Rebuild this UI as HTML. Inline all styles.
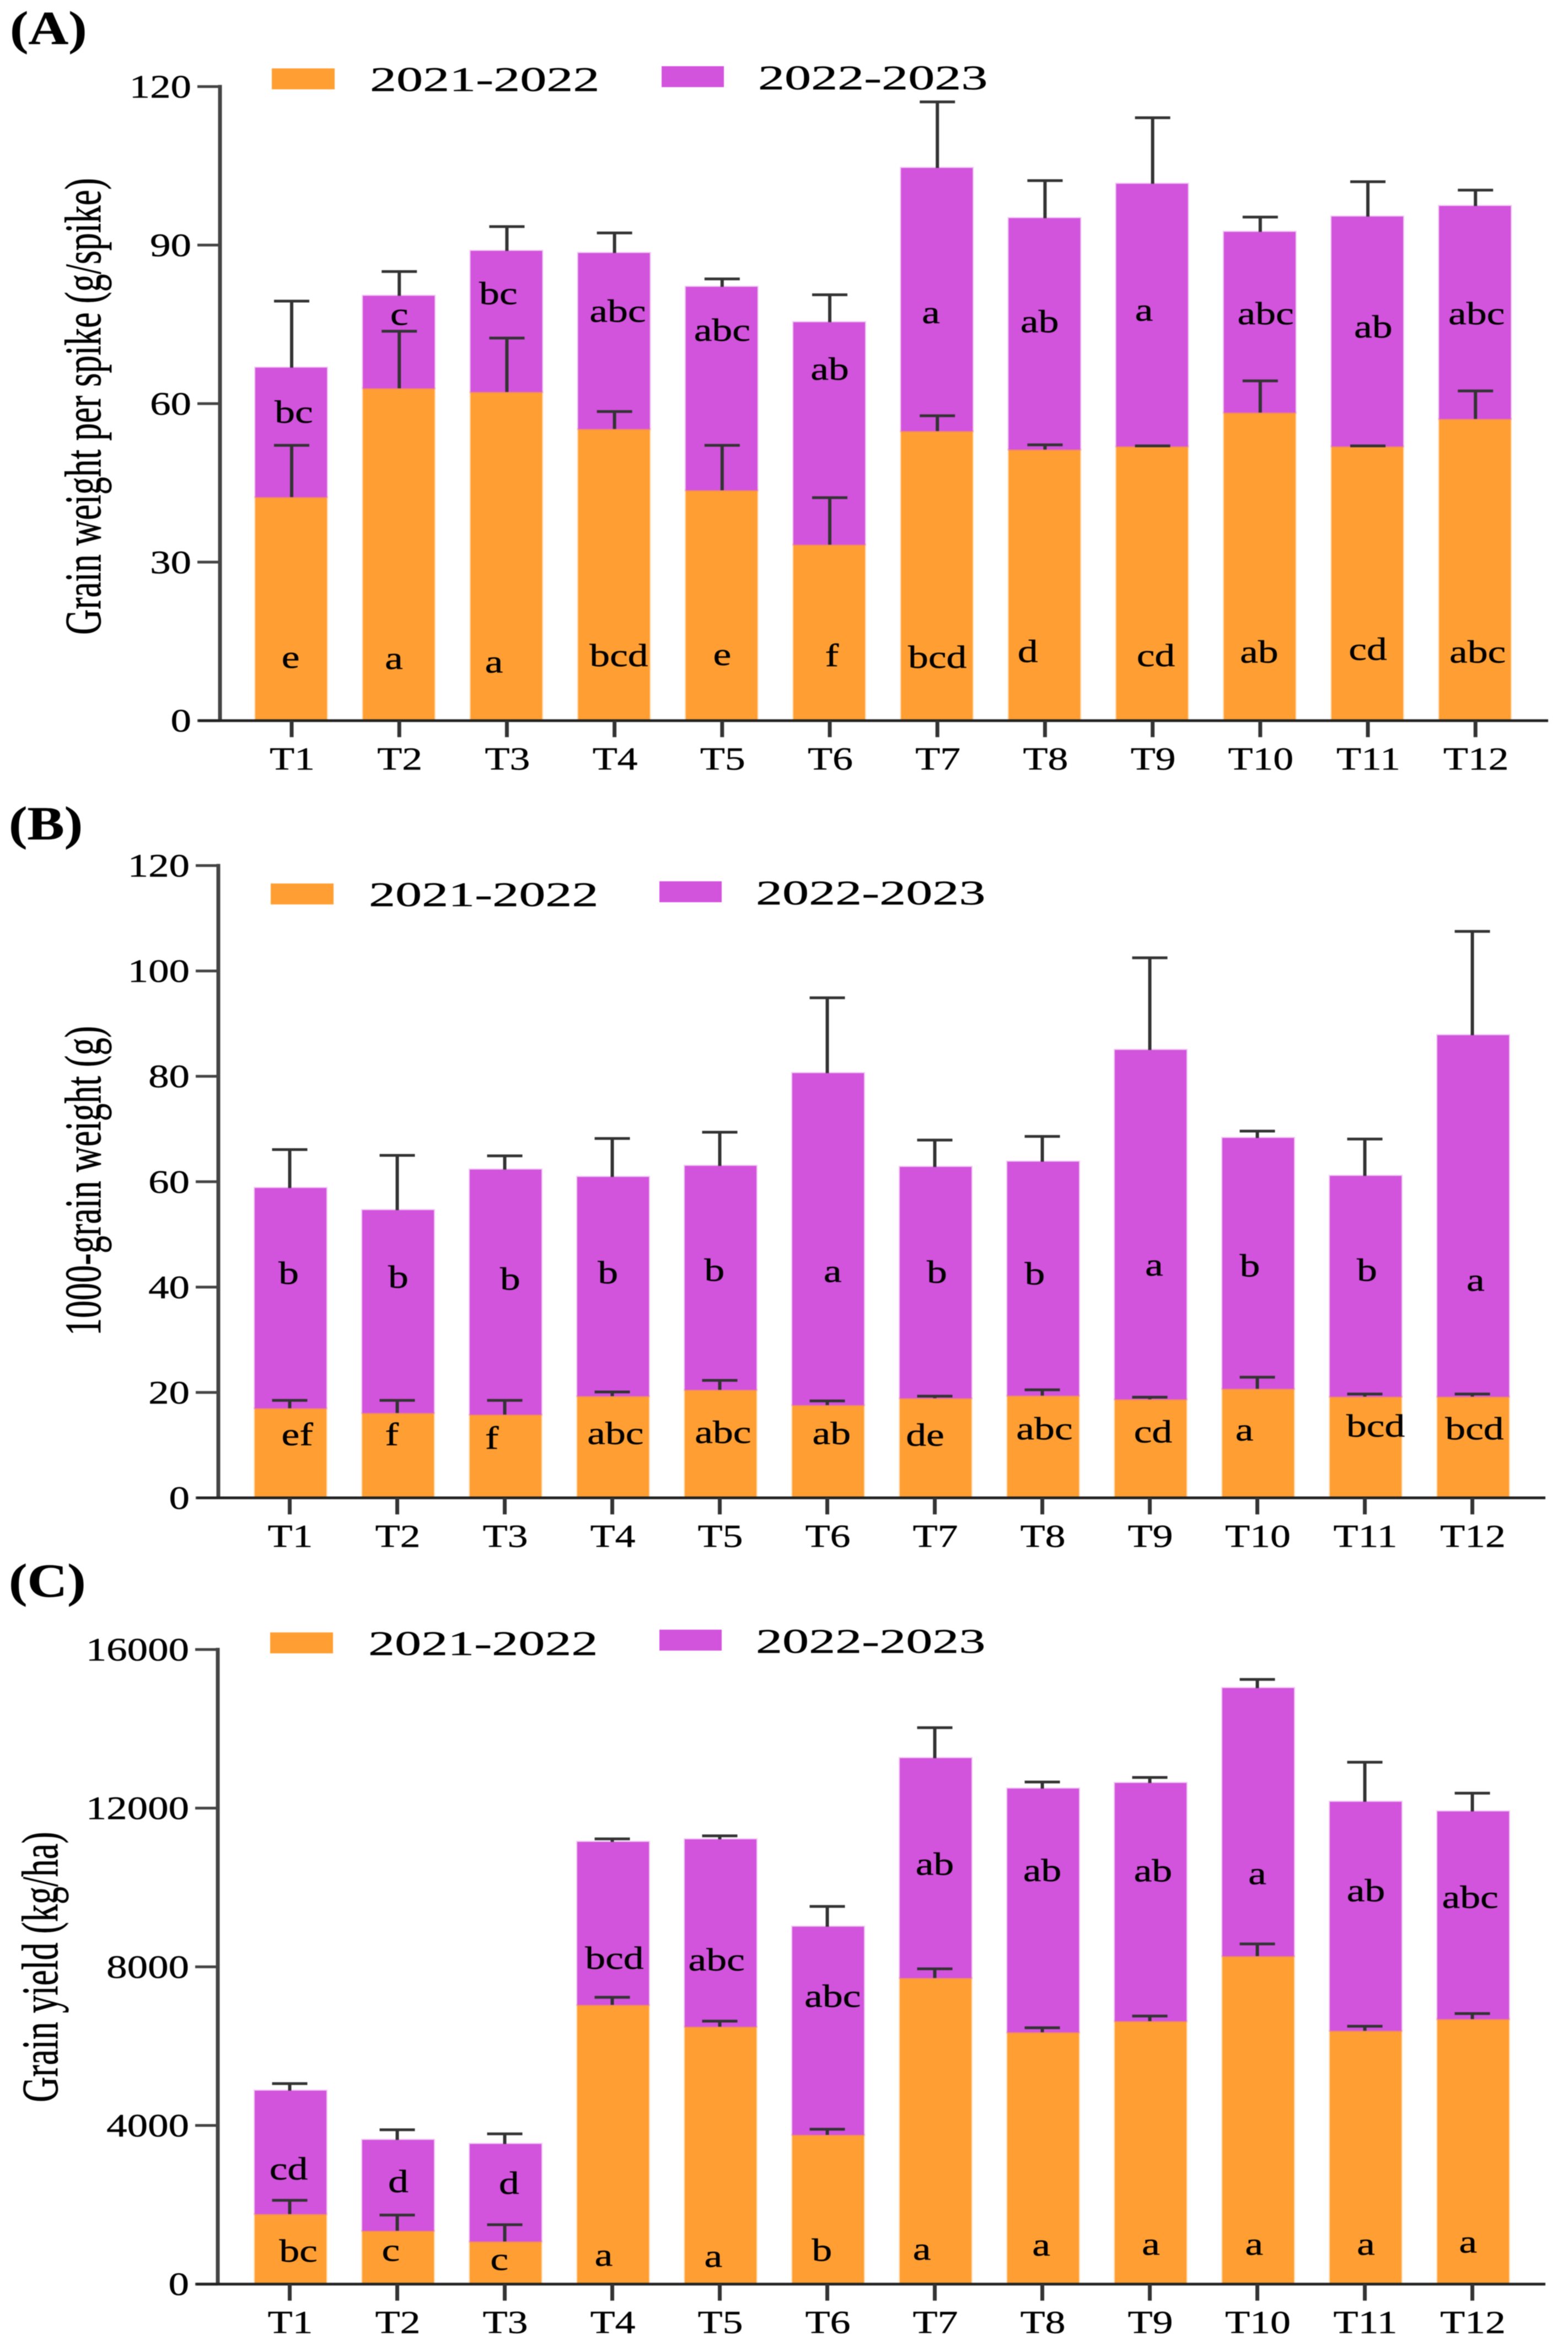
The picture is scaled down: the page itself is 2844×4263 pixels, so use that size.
<!DOCTYPE html>
<html lang="en">
<head>
<meta charset="utf-8">
<title>Grain weight and yield by treatment</title>
<style>
html,body{margin:0;padding:0;background:#fff;}
svg{display:block;filter:blur(0.7px);}
text{font-family:"Liberation Serif","DejaVu Serif",serif;fill:#000;stroke:#000;stroke-width:0.5px;}
</style>
</head>
<body>
<svg id="figure" xmlns="http://www.w3.org/2000/svg" width="2844" height="4263" viewBox="0 0 2844 4263">
<rect x="0" y="0" width="2844" height="4263" fill="#ffffff"/>
</svg>
<script>
const categories = ['T1','T2','T3','T4','T5','T6','T7','T8','T9','T10','T11','T12'];
const seriesNames = ['2021-2022','2022-2023'];

/* Panel A: grain weight per spike */
const ticksA = [0,30,60,90,120];
const bar1A = [42.3,62.9,62.2,55.2,43.6,33.3,54.8,51.3,51.9,58.3,51.9,57.1];
const bar2A = [24.5,17.5,26.7,33.3,38.5,42.1,49.8,43.8,49.7,34.2,43.5,40.3];
const err1A = [9.8,10.8,10.2,3.3,8.5,8.9,2.9,0.9,0.1,6.0,0.1,5.3];
const err2A = [12.6,4.6,4.6,3.8,1.5,5.2,12.5,7.1,12.5,2.8,6.6,3.0];
const sig1A = ['e','a','a','bcd','e','f','bcd','d','cd','ab','cd','abc'];
const sig2A = ['bc','c','bc','abc','abc','ab','a','ab','a','abc','ab','abc'];
const sig1LevelA = [10.0,9.8,9.1,10.3,10.5,10.3,10.0,11.1,10.3,11.0,11.5,11.0];
const sig2LevelA = [56.4,74.9,78.8,75.5,71.9,64.5,75.2,73.5,75.7,75.0,72.5,75.0];
const sig1ShiftA = [-0.01,-0.05,-0.12,0.04,0,0.02,0,-0.16,0.03,-0.01,0,0.02];
const sig2ShiftA = [0.02,0,-0.08,0.03,0,0,-0.06,-0.05,-0.08,0.05,0.05,0.01];

/* Panel B: 1000-grain weight */
const ticksB = [0,20,40,60,80,100,120];
const bar1B = [17.0,16.1,15.8,19.3,20.5,17.6,18.9,19.4,18.7,20.7,19.2,19.2];
const bar2B = [41.8,38.5,46.5,41.6,42.5,63.0,43.9,44.4,66.3,47.6,41.9,68.6];
const err1B = [1.5,2.4,2.7,0.8,1.8,0.8,0.4,1.1,0.4,2.2,0.5,0.5];
const err2B = [7.3,10.4,2.6,7.3,6.4,14.3,5.1,4.8,17.5,1.3,7.0,19.7];
const sig1B = ['ef','f','f','abc','abc','ab','de','abc','cd','a','bcd','bcd'];
const sig2B = ['b','b','b','b','b','a','b','b','a','b','b','a'];
const sig1LevelB = [10.0,10.0,9.3,10.2,10.4,10.2,9.9,11.1,10.5,10.9,11.6,11.1];
const sig2LevelB = [40.6,39.9,39.5,40.7,41.2,41.0,40.8,40.5,42.2,42.0,41.2,39.3];
const sig1ShiftB = [0.07,-0.05,-0.12,0.03,0.03,0.04,-0.09,0.02,0.03,-0.12,0.10,0.02];
const sig2ShiftB = [-0.01,0.01,0.05,-0.04,-0.05,0.05,0.02,-0.07,0.04,-0.07,0.02,0.03];

/* Panel C: grain yield */
const ticksC = [0,4000,8000,12000,16000];
const bar1C = [1766,1344,1075,7040,6490,3763,7718,6349,6630,8269,6387,6682];
const bar2C = [3111,2291,2458,4109,4723,5248,5543,6144,6004,6758,5773,5235];
const err1C = [346,397,423,192,140,141,231,115,128,307,115,140];
const err2C = [179,256,256,77,89,512,768,166,140,218,998,461];
const sig1C = ['bc','c','c','a','a','b','a','a','a','a','a','a'];
const sig2C = ['cd','d','d','bcd','abc','abc','ab','ab','ab','a','ab','abc'];
const sig1LevelC = [563,589,358,461,435,589,614,717,742,742,742,794];
const sig2LevelC = [2637,2317,2278,7949,7910,6989,10317,10163,10150,10086,9651,9485];
const sig1ShiftC = [0.08,-0.06,-0.05,-0.08,-0.06,-0.05,-0.12,-0.01,0.01,-0.03,0.01,-0.04];
const sig2ShiftC = [-0.01,0.01,0.04,0.02,-0.03,0.05,0,0,0.03,0,0.01,-0.02];

const ORANGE = '#ff9f33';
const PURPLE = '#d253dc';
const INK = '#333333';
const NS = 'http://www.w3.org/2000/svg';
const figure = document.getElementById('figure');

function shape(parent, tag, props){
  const node = document.createElementNS(NS, tag);
  for (const k in props) node.setAttribute(k, props[k]);
  parent.appendChild(node);
  return node;
}
function label(parent, str, x, y, size, sx, anchor, extra){
  const node = document.createElementNS(NS, 'text');
  node.textContent = str;
  node.setAttribute('transform', 'translate(' + x + ',' + y + ') scale(' + sx + ',1)');
  node.setAttribute('font-size', size);
  node.setAttribute('text-anchor', anchor);
  if (extra) node.setAttribute('font-weight', extra);
  parent.appendChild(node);
  return node;
}

function drawPanel(p){
  const g = shape(figure, 'g', {});
  
  
  const maxV = p.ticks[p.ticks.length - 1];
  const yOf = v => p.y0 - (v / maxV) * (p.y0 - p.yTop);
  const xOf = i => p.x1 + i * p.pitch;

  const tag = label(g, '(' + p.key + ')', p.tagX, p.tagY, 86, 1.17, 'start', 'bold');
  
  

  /* bars */
  categories.forEach((c, i) => {
    const cx = xOf(i) + p.barShift;
    const a = p.bar1[i], b = p.bar2[i];
    const lower = shape(g, 'rect', {x: cx - 65, y: yOf(a), width: 130, height: p.y0 - yOf(a), fill: ORANGE, stroke: ORANGE, 'stroke-width': 4, 'stroke-opacity': 0.3});
    
    
    const upper = shape(g, 'rect', {x: cx - 65, y: yOf(a + b), width: 130, height: yOf(a) - yOf(a + b), fill: PURPLE, stroke: PURPLE, 'stroke-width': 4, 'stroke-opacity': 0.3});
    
    
  });

  /* error bars */
  categories.forEach((c, i) => {
    const cx = xOf(i);
    const a = p.bar1[i], b = p.bar2[i];
    const pairs = [[a, a + p.err1[i], '2021-2022'], [a + b, a + b + p.err2[i], '2022-2023']];
    pairs.forEach(pair => {
      const eg = shape(g, 'g', {stroke: INK, fill: 'none'});
      
      
      shape(eg, 'line', {x1: cx, x2: cx, y1: yOf(pair[0]), y2: yOf(pair[1]), 'stroke-width': 6});
      shape(eg, 'line', {x1: cx - 32, x2: cx + 32, y1: yOf(pair[1]), y2: yOf(pair[1]), 'stroke-width': 5});
    });
  });

  /* significance letters */
  categories.forEach((c, i) => {
    const one = label(g, p.sig1[i], xOf(i) + p.sig1Shift[i] * p.pitch, yOf(p.sig1Level[i]), 58, 1.27, 'middle');
    
    
    const two = label(g, p.sig2[i], xOf(i) + p.sig2Shift[i] * p.pitch, yOf(p.sig2Level[i]), 58, 1.27, 'middle');
    
    
  });

  /* y axis */
  const yAxis = shape(g, 'line', {x1: p.axisX, x2: p.axisX, y1: p.yTop - 3, y2: p.y0, stroke: '#444444', 'stroke-width': 7});
  
  
  p.ticks.forEach(t => {
    const mark = shape(g, 'line', {x1: p.axisX - 41, x2: p.axisX, y1: yOf(t), y2: yOf(t), stroke: '#444444', 'stroke-width': 5});
    
    
    const lab = label(g, String(t), p.axisX - 52, yOf(t) + 20, 59, 1.27, 'end');
    
    
  });

  /* x axis */
  const xAxis = shape(g, 'line', {x1: p.axisX - 39, x2: p.xEnd, y1: p.y0, y2: p.y0, stroke: '#222222', 'stroke-width': 5});
  
  
  categories.forEach((c, i) => {
    const mark = shape(g, 'line', {x1: xOf(i), x2: xOf(i), y1: p.y0, y2: p.y0 + 30, stroke: '#333333', 'stroke-width': 7});
    
    
    const lab = label(g, c, xOf(i) + 1, p.y0 + 89, 58, 1.27, 'middle');
    
    
  });

  /* y axis title */
  const title = document.createElementNS(NS, 'text');
  title.textContent = p.title;
  title.setAttribute('transform', 'translate(' + p.titleX + ',' + p.titleY + ') rotate(-90) scale(1,1.45)');
  title.setAttribute('font-size', 64);
  
  
  g.appendChild(title);

  /* legend */
  const sw1 = shape(g, 'rect', {x: p.legendX1, y: p.legendY1, width: 114, height: 38, fill: ORANGE});
  
  
  const lt1 = label(g, seriesNames[0], p.legendX1 + 178, p.legendY1 + 41, 62, 1.55, 'start');
  
  
  const sw2 = shape(g, 'rect', {x: p.legendX2, y: p.legendY2, width: 113, height: 38, fill: PURPLE});
  
  
  const lt2 = label(g, seriesNames[1], p.legendX2 + 175, p.legendY2 + 42, 62, 1.55, 'start');
  
  
}

drawPanel({key:'A', ticks:ticksA, bar1:bar1A, bar2:bar2A, err1:err1A, err2:err2A,
  sig1:sig1A, sig2:sig2A, sig1Level:sig1LevelA, sig2Level:sig2LevelA, sig1Shift:sig1ShiftA, sig2Shift:sig2ShiftA,
  title:'Grain weight per spike (g/spike)', titleX:182, titleY:1151,
  y0:1306.7, yTop:157, axisX:399, x1:529, pitch:195.2, xEnd:2808, barShift:-1,
  tagX:18, tagY:80, legendX1:493, legendY1:124, legendX2:1200, legendY2:120});

drawPanel({key:'B', ticks:ticksB, bar1:bar1B, bar2:bar2B, err1:err1B, err2:err2B,
  sig1:sig1B, sig2:sig2B, sig1Level:sig1LevelB, sig2Level:sig2LevelB, sig1Shift:sig1ShiftB, sig2Shift:sig2ShiftB,
  title:'1000-grain weight (g)', titleX:182, titleY:2422,
  y0:2716, yTop:1569.5, axisX:396, x1:525.5, pitch:195, xEnd:2803, barShift:1.5,
  tagX:16, tagY:1522, legendX1:491, legendY1:1602, legendX2:1196, legendY2:1598});

drawPanel({key:'C', ticks:ticksC, bar1:bar1C, bar2:bar2C, err1:err1C, err2:err2C,
  sig1:sig1C, sig2:sig2C, sig1Level:sig1LevelC, sig2Level:sig2LevelC, sig1Shift:sig1ShiftC, sig2Shift:sig2ShiftC,
  title:'Grain yield (kg/ha)', titleX:104, titleY:3812,
  y0:4141.7, yTop:2991, axisX:395, x1:525.5, pitch:195, xEnd:2803, barShift:1.5,
  tagX:16, tagY:2895, legendX1:490, legendY1:2960, legendX2:1196, legendY2:2955});
</script>
</body>
</html>
